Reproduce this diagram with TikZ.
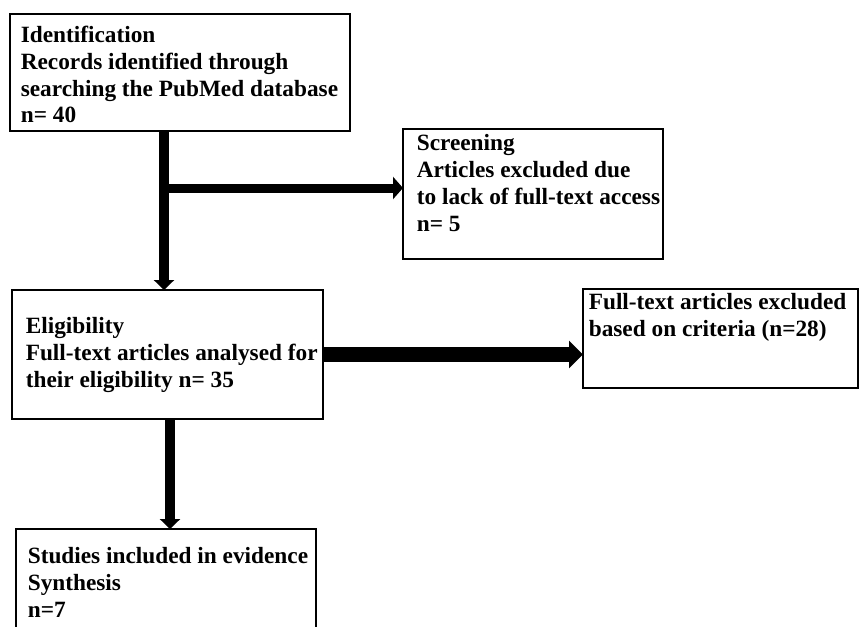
\documentclass[tikz,border=0pt]{standalone}
\usepackage{fontspec}
\setmainfont{Liberation Serif}
\usetikzlibrary{arrows.meta}
\newcommand\flowfont{\fontsize{23.3}{27}\selectfont\bfseries}

\begin{document}
\begin{tikzpicture}[x=1pt, y=-1pt, line width=1.6pt,
    box/.style={draw=black, anchor=north west, inner sep=0pt, outer sep=0pt},
    txt/.style={anchor=base west, inner sep=0pt, text width=340pt, align=flush left,
      font=\flowfont},
    thin arrow/.style={line width=10pt, -{Triangle[width=20pt, length=10pt]}},
    thick arrow/.style={line width=15pt, -{Triangle[width=27pt, length=14pt]}}]

    \useasboundingbox (0,0) rectangle (861,626);

    % draw boxes
    \node[box, minimum width=340pt, minimum height=117pt] (ident) at (10,14) {};
    \node[box, minimum width=260pt, minimum height=130pt] (screen) at (403,129) {};
    \node[box, minimum width=311pt, minimum height=129pt] (elig) at (12,290) {};
    \node[box, minimum width=275pt, minimum height=99pt] (excl) at (583,289) {};
    \node[box, minimum width=300pt, minimum height=120pt] (incl) at (16,529) {};

    % draw box texts
    \node[txt] (ident-t) at ([shift={(10,28)}]ident.north west)
      {Identification\\ Records identified through\\ searching the PubMed database\\ n= 40};
    \node[txt] (screen-t) at ([shift={(13,21)}]screen.north west)
      {Screening\\ Articles excluded due\\ to lack of full-text access\\ n= 5};
    \node[txt] (elig-t) at ([shift={(13,43)}]elig.north west)
      {Eligibility\\ Full-text articles analysed for\\ their eligibility n= 35};
    \node[txt] (excl-t) at ([shift={(5,20)}]excl.north west)
      {Full-text articles excluded\\ based on criteria (n=28)};
    \node[txt] (incl-t) at ([shift={(11,34)}]incl.north west)
      {Studies included in evidence\\ Synthesis\\ n=7};

    % draw arrows
    \coordinate (a) at ([xshift=154pt]ident.south west);
    \coordinate (sc) at ([yshift=6pt]screen.west);
    \coordinate (b) at ([xshift=158pt]elig.south west);

    \draw[thin arrow] (a) -- (a |- elig.north);
    \draw[line width=9pt, -{Triangle[width=22pt, length=10pt]}] (a |- sc) -- (sc);
    \draw[thick arrow] (elig.east) -- (elig.east -| excl.west);
    \draw[thin arrow] (b) -- (b |- incl.north);

\end{tikzpicture}
\end{document}
